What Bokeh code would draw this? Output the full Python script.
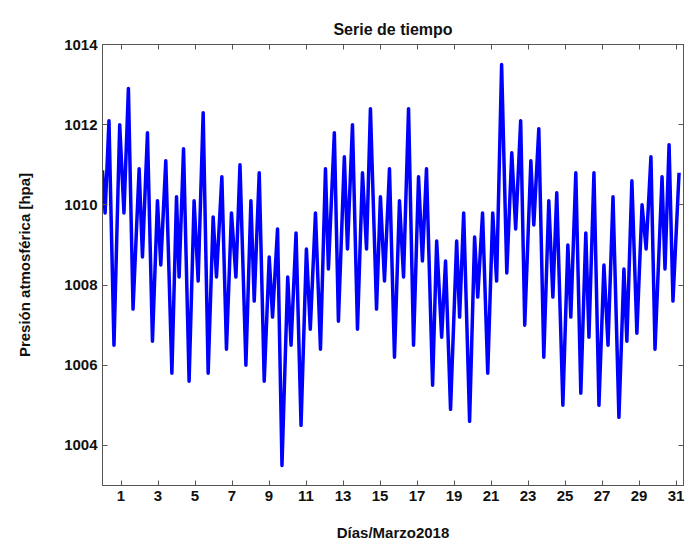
from bokeh.plotting import figure
from bokeh.models import LinearAxis, FixedTicker, Range1d
from bokeh.embed import file_html
from bokeh.resources import INLINE

days = [0.0,0.14,0.35,0.62,0.93,1.16,1.40,1.65,1.98,2.16,2.43,2.70,2.97,3.15,3.42,3.75,4.00,4.14,4.38,4.68,
        4.95,5.17,5.44,5.71,5.98,6.16,6.45,6.70,6.97,7.21,7.43,7.75,8.02,8.20,8.47,8.74,9.01,9.19,9.46,9.70,
        10.01,10.19,10.46,10.73,11.02,11.23,11.51,11.78,12.05,12.21,12.53,12.75,13.07,13.24,13.51,13.78,14.05,14.27,14.48,14.81,
        15.02,15.24,15.51,15.78,16.05,16.27,16.54,16.81,17.08,17.29,17.51,17.84,18.06,18.33,18.54,18.81,19.14,19.30,19.52,19.84,
        20.11,20.28,20.54,20.82,21.09,21.30,21.57,21.85,22.12,22.33,22.60,22.82,23.15,23.31,23.58,23.85,24.12,24.34,24.55,24.88,
        25.15,25.31,25.58,25.85,26.12,26.29,26.56,26.83,27.10,27.32,27.59,27.91,28.18,28.34,28.61,28.88,29.16,29.38,29.64,29.86,
        30.24,30.40,30.62,30.83,31.16]
pressure = [1010.86,1009.8,1012.1,1006.5,1012.0,1009.8,1012.9,1007.4,1010.9,1008.7,1011.8,1006.6,1010.1,1008.5,1011.1,1005.8,1010.2,1008.2,1011.4,1005.6,
            1010.1,1008.1,1012.3,1005.8,1009.7,1008.2,1010.7,1006.4,1009.8,1008.2,1011.0,1006.0,1010.1,1007.6,1010.8,1005.6,1008.7,1007.2,1009.4,1003.5,
            1008.2,1006.5,1009.3,1004.5,1008.9,1006.9,1009.8,1006.4,1010.9,1008.4,1011.8,1007.1,1011.2,1008.9,1012.0,1006.9,1010.8,1008.9,1012.4,1007.4,
            1010.2,1008.1,1010.9,1006.2,1010.1,1008.2,1012.4,1006.5,1010.7,1008.6,1010.9,1005.5,1009.1,1006.7,1008.6,1004.9,1009.1,1007.2,1009.8,1004.6,
            1009.2,1007.7,1009.8,1005.8,1009.8,1008.1,1013.5,1008.3,1011.3,1009.4,1012.1,1007.0,1011.1,1009.5,1011.9,1006.2,1010.1,1007.7,1010.3,1005.0,
            1009.0,1007.2,1010.8,1005.3,1009.3,1006.7,1010.8,1005.0,1008.5,1006.5,1010.2,1004.7,1008.4,1006.6,1010.6,1006.8,1010.0,1008.9,1011.2,1006.4,
            1010.7,1008.4,1011.5,1007.6,1010.8]
x_ticks = list(range(1, 32, 2))
y_ticks = list(range(1004, 1015, 2))

FONT = "Liberation Sans"
p = figure(width=691, height=550, output_backend="svg", toolbar_location=None,
           x_range=Range1d(0, 31.4), y_range=Range1d(1003, 1014),
           min_border_left=102, min_border_right=8, min_border_top=44, min_border_bottom=65,
           title="Serie de tiempo")
p.line(days, pressure, line_color="#0000ff", line_width=3.5, line_join="round")
p.title.align = "center"
p.title.text_font = FONT
p.title.text_font_size = "16px"
p.title.text_font_style = "bold"
p.title.text_color = "#111111"
p.title.standoff = 14
p.grid.visible = False
p.outline_line_color = "#555555"
p.xaxis.axis_label = "Días/Marzo2018"
p.yaxis.axis_label = "Presión atmosférica [hpa]"
p.xaxis.ticker = FixedTicker(ticks=x_ticks)
p.yaxis.ticker = FixedTicker(ticks=y_ticks)
for ax in [p.xaxis[0], p.yaxis[0]]:
    ax.major_tick_in = 5
    ax.major_tick_out = 0
    ax.minor_tick_line_color = None
    ax.major_label_text_font = FONT
    ax.major_label_text_font_style = "bold"
    ax.major_label_text_font_size = "15px"
    ax.major_label_text_color = "#111111"
    ax.axis_label_text_font = FONT
    ax.axis_label_text_font_style = "bold"
    ax.axis_label_text_font_size = "15px"
    ax.axis_label_text_color = "#111111"
    ax.axis_line_color = "#555555"
    ax.major_tick_line_color = "#555555"
p.xaxis.axis_label_standoff = 20
p.yaxis.axis_label_standoff = 28
for loc, tk in [("above", x_ticks), ("right", y_ticks)]:
    a = LinearAxis(ticker=FixedTicker(ticks=tk), major_label_text_alpha=0,
                   major_label_text_font_size="15px",
                   major_tick_in=5, major_tick_out=0, minor_tick_line_color=None,
                   axis_line_color="#555555", major_tick_line_color="#555555")
    p.add_layout(a, loc)

open("out.html", "w").write(file_html(p, INLINE))
